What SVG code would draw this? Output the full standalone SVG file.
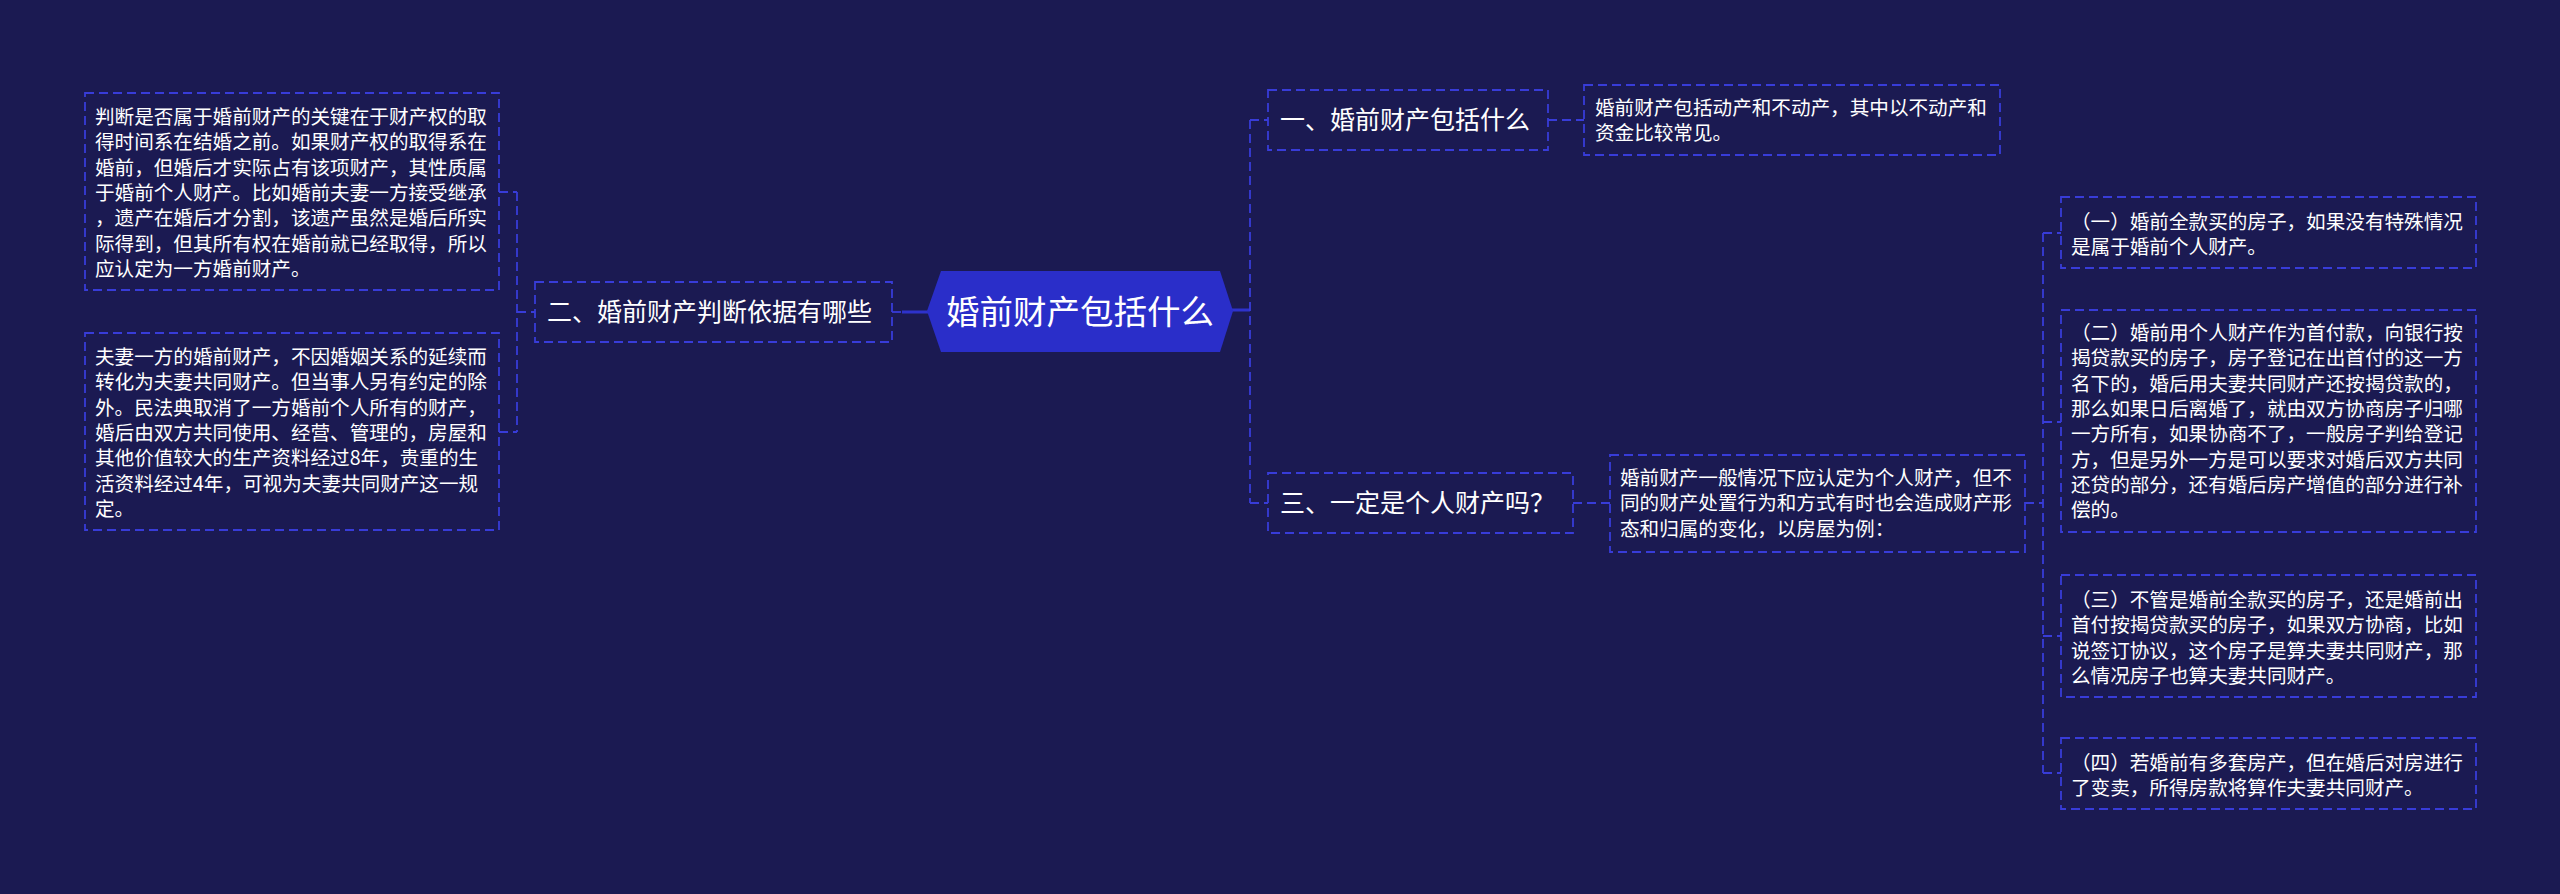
<svg xmlns="http://www.w3.org/2000/svg" width="2560" height="894" viewBox="0 0 2560 894">
<style>
.bg{fill:#1b1a52}
.box{fill:none;stroke:#383cd8;stroke-width:1.8;stroke-dasharray:9 5}
.ln{fill:none;stroke:#383cd8;stroke-width:1.8;stroke-dasharray:9 5}
.solid{fill:none;stroke:#2e32cc;stroke-width:3}
.t{font-family:"Noto Sans CJK SC","Noto Sans",sans-serif;fill:#ffffff}
.leaf{font-size:19.6px}
.mid{font-size:25px}
.root{font-size:33.5px}
</style>
<rect class="bg" x="0" y="0" width="2560" height="894"/>
<g id="connectors">
  <line class="solid" x1="902" y1="312" x2="929" y2="312"/>
  <line class="ln" x1="892" y1="312" x2="902" y2="312"/>
  <line class="ln" x1="517" y1="312" x2="535" y2="312"/>
  <line class="ln" x1="517" y1="192" x2="517" y2="432"/>
  <line class="ln" x1="499" y1="192" x2="517" y2="192"/>
  <line class="ln" x1="499" y1="432" x2="517" y2="432"/>
  <line class="solid" x1="1231" y1="310" x2="1250" y2="310"/>
  <line class="ln" x1="1250" y1="120" x2="1250" y2="503"/>
  <line class="ln" x1="1250" y1="120" x2="1268" y2="120"/>
  <line class="ln" x1="1250" y1="503" x2="1268" y2="503"/>
  <line class="ln" x1="1548" y1="120" x2="1584" y2="120"/>
  <line class="ln" x1="1573" y1="503" x2="1610" y2="503"/>
  <line class="ln" x1="2025" y1="503" x2="2043" y2="503"/>
  <line class="ln" x1="2043" y1="233" x2="2043" y2="773"/>
  <line class="ln" x1="2043" y1="233" x2="2061" y2="233"/>
  <line class="ln" x1="2043" y1="422" x2="2061" y2="422"/>
  <line class="ln" x1="2043" y1="636" x2="2061" y2="636"/>
  <line class="ln" x1="2043" y1="773" x2="2061" y2="773"/>
</g>
<g id="root">
  <polygon points="927,311 941,271 1220,271 1233,311 1220,352 941,352" fill="#2a2ec9"/>
  <text class="t root" x="1080" y="323.5" text-anchor="middle">婚前财产包括什么</text>
</g>
<g id="n2">
  <rect class="box" x="535" y="282" width="357" height="60"/>
  <text class="t mid" x="547" y="321">二、婚前财产判断依据有哪些</text>
</g>
<g id="n2a">
  <rect class="box" x="85" y="93" width="414" height="197"/>
  <text class="t leaf" x="95" y="124">
    <tspan x="95" dy="0">判断是否属于婚前财产的关键在于财产权的取</tspan>
    <tspan x="95" dy="25.3">得时间系在结婚之前。如果财产权的取得系在</tspan>
    <tspan x="95" dy="25.3">婚前，但婚后才实际占有该项财产，其性质属</tspan>
    <tspan x="95" dy="25.3">于婚前个人财产。比如婚前夫妻一方接受继承</tspan>
    <tspan x="95" dy="25.3">，遗产在婚后才分割，该遗产虽然是婚后所实</tspan>
    <tspan x="95" dy="25.3">际得到，但其所有权在婚前就已经取得，所以</tspan>
    <tspan x="95" dy="25.3">应认定为一方婚前财产。</tspan>
  </text>
</g>
<g id="n2b">
  <rect class="box" x="85" y="333" width="414" height="197"/>
  <text class="t leaf" x="95" y="364">
    <tspan x="95" dy="0">夫妻一方的婚前财产，不因婚姻关系的延续而</tspan>
    <tspan x="95" dy="25.3">转化为夫妻共同财产。但当事人另有约定的除</tspan>
    <tspan x="95" dy="25.3">外。民法典取消了一方婚前个人所有的财产，</tspan>
    <tspan x="95" dy="25.3">婚后由双方共同使用、经营、管理的，房屋和</tspan>
    <tspan x="95" dy="25.3">其他价值较大的生产资料经过8年，贵重的生</tspan>
    <tspan x="95" dy="25.3">活资料经过4年，可视为夫妻共同财产这一规</tspan>
    <tspan x="95" dy="25.3">定。</tspan>
  </text>
</g>
<g id="n1">
  <rect class="box" x="1268" y="90" width="280" height="60"/>
  <text class="t mid" x="1280" y="129">一、婚前财产包括什么</text>
</g>
<g id="n1a">
  <rect class="box" x="1584" y="85" width="416" height="70"/>
  <text class="t leaf" x="1595" y="115">
    <tspan x="1595" dy="0">婚前财产包括动产和不动产，其中以不动产和</tspan>
    <tspan x="1595" dy="25.3">资金比较常见。</tspan>
  </text>
</g>
<g id="n3">
  <rect class="box" x="1268" y="473" width="305" height="60"/>
  <text class="t mid" x="1280" y="512">三、一定是个人财产吗？</text>
</g>
<g id="n3a">
  <rect class="box" x="1610" y="455" width="415" height="97"/>
  <text class="t leaf" x="1620" y="485">
    <tspan x="1620" dy="0">婚前财产一般情况下应认定为个人财产，但不</tspan>
    <tspan x="1620" dy="25.3">同的财产处置行为和方式有时也会造成财产形</tspan>
    <tspan x="1620" dy="25.3">态和归属的变化，以房屋为例：</tspan>
  </text>
</g>
<g id="n3a1">
  <rect class="box" x="2061" y="197" width="415" height="71"/>
  <text class="t leaf" x="2071" y="229">
    <tspan x="2071" dy="0">（一）婚前全款买的房子，如果没有特殊情况</tspan>
    <tspan x="2071" dy="25.3">是属于婚前个人财产。</tspan>
  </text>
</g>
<g id="n3a2">
  <rect class="box" x="2061" y="310" width="415" height="222"/>
  <text class="t leaf" x="2071" y="340">
    <tspan x="2071" dy="0">（二）婚前用个人财产作为首付款，向银行按</tspan>
    <tspan x="2071" dy="25.3">揭贷款买的房子，房子登记在出首付的这一方</tspan>
    <tspan x="2071" dy="25.3">名下的，婚后用夫妻共同财产还按揭贷款的，</tspan>
    <tspan x="2071" dy="25.3">那么如果日后离婚了，就由双方协商房子归哪</tspan>
    <tspan x="2071" dy="25.3">一方所有，如果协商不了，一般房子判给登记</tspan>
    <tspan x="2071" dy="25.3">方，但是另外一方是可以要求对婚后双方共同</tspan>
    <tspan x="2071" dy="25.3">还贷的部分，还有婚后房产增值的部分进行补</tspan>
    <tspan x="2071" dy="25.3">偿的。</tspan>
  </text>
</g>
<g id="n3a3">
  <rect class="box" x="2061" y="575" width="415" height="122"/>
  <text class="t leaf" x="2071" y="607">
    <tspan x="2071" dy="0">（三）不管是婚前全款买的房子，还是婚前出</tspan>
    <tspan x="2071" dy="25.3">首付按揭贷款买的房子，如果双方协商，比如</tspan>
    <tspan x="2071" dy="25.3">说签订协议，这个房子是算夫妻共同财产，那</tspan>
    <tspan x="2071" dy="25.3">么情况房子也算夫妻共同财产。</tspan>
  </text>
</g>
<g id="n3a4">
  <rect class="box" x="2061" y="738" width="415" height="71"/>
  <text class="t leaf" x="2071" y="770">
    <tspan x="2071" dy="0">（四）若婚前有多套房产，但在婚后对房进行</tspan>
    <tspan x="2071" dy="25.3">了变卖，所得房款将算作夫妻共同财产。</tspan>
  </text>
</g>
</svg>
